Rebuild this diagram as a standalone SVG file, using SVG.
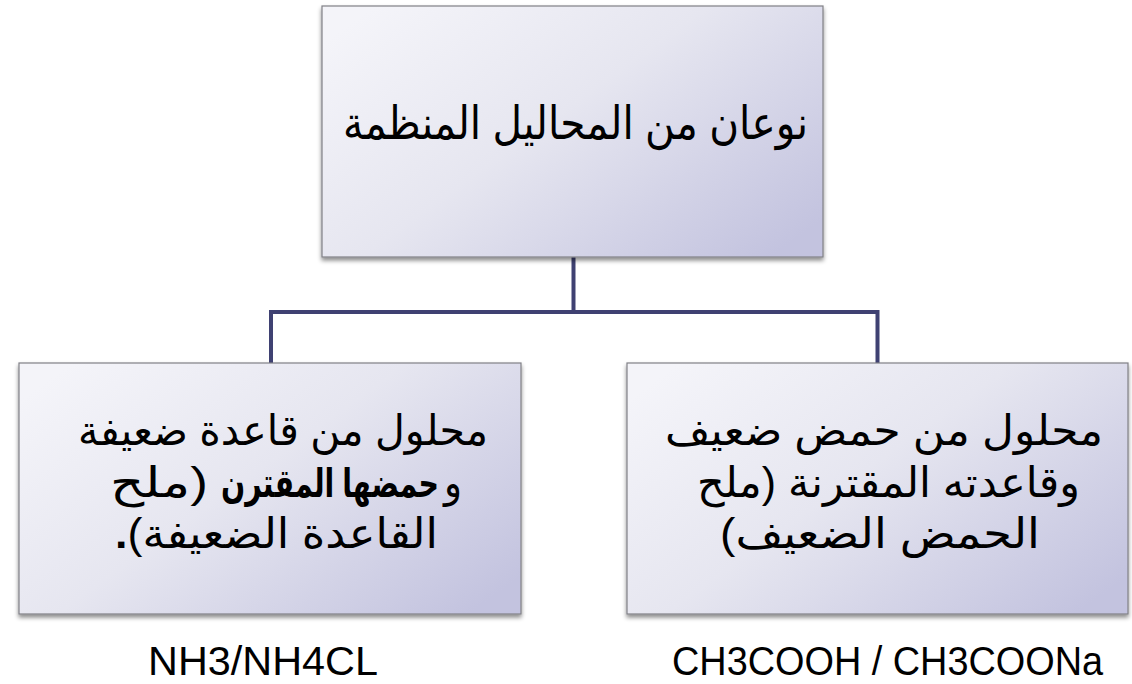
<svg xmlns="http://www.w3.org/2000/svg" width="1132" height="684" viewBox="0 0 1132 684">
  <defs>
    <linearGradient id="boxFill" x1="0" y1="0.15" x2="1" y2="0.85">
      <stop offset="0" stop-color="#f4f4f9"/>
      <stop offset="0.45" stop-color="#e6e6f0"/>
      <stop offset="1" stop-color="#c3c3df"/>
    </linearGradient>
    <filter id="shadow" x="-5%" y="-5%" width="110%" height="115%">
      <feDropShadow dx="0" dy="3" stdDeviation="2" flood-color="#000" flood-opacity="0.45"/>
    </filter>
  </defs>
  <style>
    .box { fill: url(#boxFill); stroke: #808086; stroke-width: 1.2; filter: url(#shadow); }
    .conn { fill: none; stroke: #3f4172; stroke-width: 4; stroke-linejoin: miter; }
    .ar { font-family: "Liberation Sans", "DejaVu Sans", sans-serif; font-size: 42px; fill: #000; text-anchor: middle; direction: rtl; }
    .top { font-size: 46px; }
    .b { font-weight: bold; }
    .bs { font-size: 40px; }
    .lat { font-family: "Liberation Sans", Arial, sans-serif; font-size: 40px; fill: #000; }
  </style>
  <rect width="1132" height="684" fill="#ffffff"/>

  <g id="connectors">
    <path class="conn" d="M573.5,257 V312"/>
    <path class="conn" d="M271,363 V312 H877.5 V363"/>
  </g>

  <g id="node-root">
    <rect class="box" x="322" y="6" width="501" height="251"/>
    <text class="ar top" x="575.5" y="139" textLength="465" lengthAdjust="spacingAndGlyphs">نوعان من المحاليل المنظمة</text>
  </g>

  <g id="node-base">
    <rect class="box" x="19" y="363" width="502" height="251"/>
    <text class="ar" x="283" y="445" textLength="410" lengthAdjust="spacingAndGlyphs">محلول من قاعدة ضعيفة</text>
    <text class="ar" x="453" y="497" textLength="18" lengthAdjust="spacingAndGlyphs">و</text>
    <text class="ar b bs" x="330" y="497" textLength="218" lengthAdjust="spacingAndGlyphs">حمضها المقترن</text>
    <text class="ar" x="159" y="497" textLength="98" lengthAdjust="spacingAndGlyphs">(ملح</text>
    <text class="ar" x="276.5" y="548" textLength="323" lengthAdjust="spacingAndGlyphs">القاعدة الضعيفة)<tspan class="b">.</tspan></text>
  </g>

  <g id="node-acid">
    <rect class="box" x="627" y="363" width="501" height="251"/>
    <text class="ar" x="884" y="445" textLength="438" lengthAdjust="spacingAndGlyphs">محلول من حمض ضعيف</text>
    <text class="ar" x="888.5" y="497" textLength="383" lengthAdjust="spacingAndGlyphs">وقاعدته المقترنة (ملح</text>
    <text class="ar" x="880" y="548" textLength="320" lengthAdjust="spacingAndGlyphs">الحمض الضعيف)</text>
  </g>

  <g id="labels">
    <text class="lat" x="148" y="675" textLength="230" lengthAdjust="spacingAndGlyphs">NH3/NH4CL</text>
    <text class="lat" x="672" y="675" textLength="431" lengthAdjust="spacingAndGlyphs">CH3COOH / CH3COONa</text>
  </g>
</svg>
